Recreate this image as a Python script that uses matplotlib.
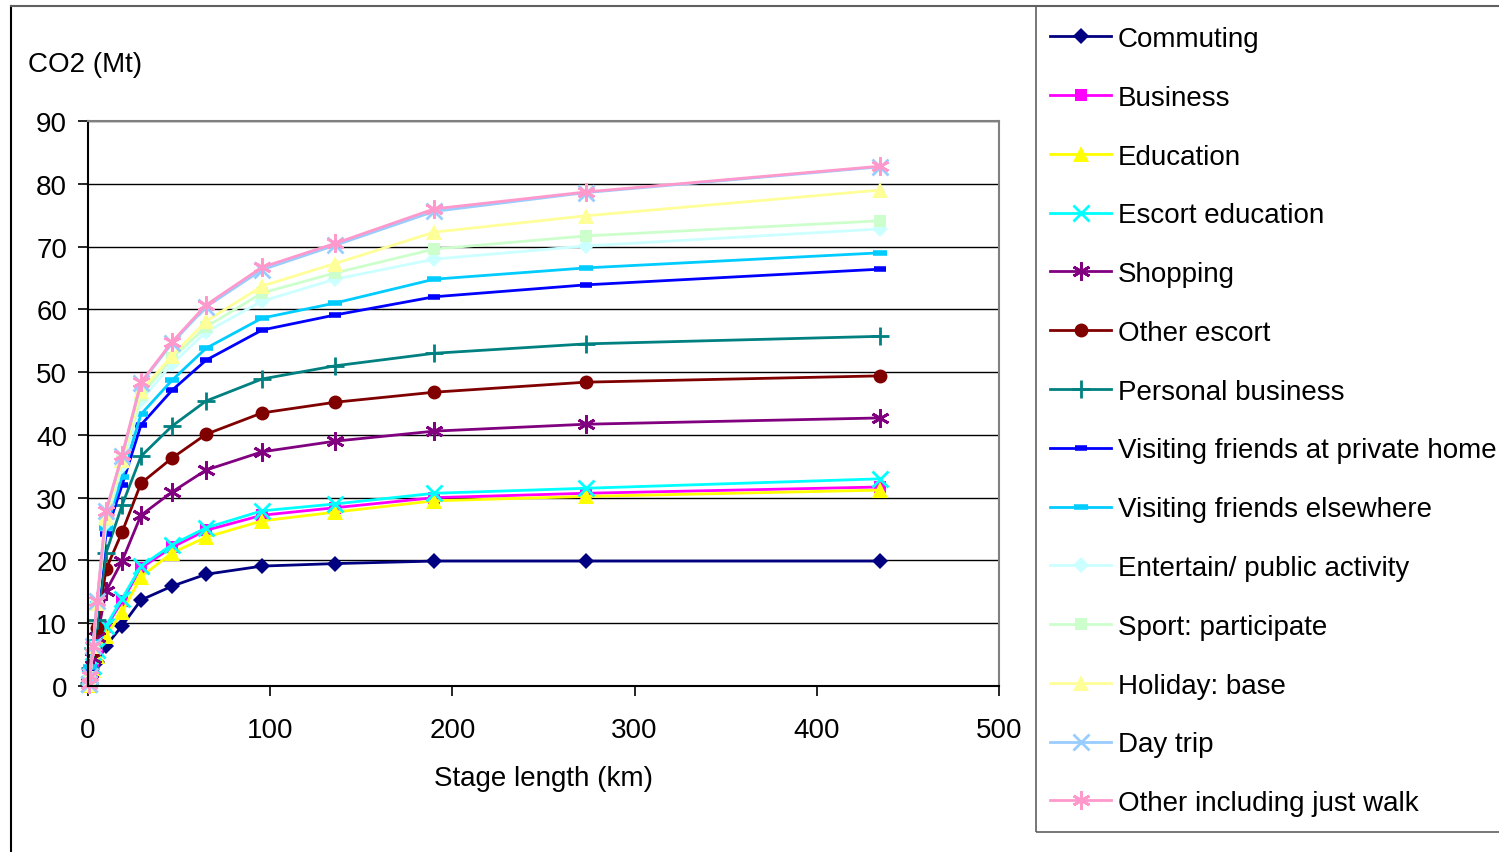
import matplotlib
matplotlib.use("Agg")
import matplotlib.pyplot as plt
from matplotlib.lines import Line2D
from matplotlib.patches import Rectangle

plt.rcParams['font.family'] = ['Liberation Sans', 'DejaVu Sans']

stage_km = [0.3, 1.1, 2.8, 5.0, 9.9, 18.7, 29.1, 46.1, 64.8, 95.5, 135.6, 190.0, 273.3, 434.7]

commuting = [0.2, 0.9, 2.1, 3.8, 6.4, 9.6, 13.7, 15.9, 17.8, 19.1, 19.5, 19.9, 19.9, 19.9]
business = [0.3, 1.2, 3.0, 5.5, 9.4, 13.5, 18.8, 22.1, 24.8, 27.2, 28.4, 30.0, 30.7, 31.7]
education = [0.2, 1.0, 2.6, 4.7, 8.0, 11.8, 17.4, 21.2, 23.7, 26.3, 27.7, 29.5, 30.2, 31.2]
escort_education = [0.3, 1.3, 3.2, 5.8, 9.6, 13.9, 19.1, 22.5, 25.2, 27.9, 29.0, 30.7, 31.5, 33.0]
shopping = [0.4, 2.0, 4.5, 7.8, 15.1, 19.9, 27.2, 30.9, 34.4, 37.3, 39.0, 40.6, 41.7, 42.7]
other_escort = [0.5, 2.5, 5.5, 9.2, 18.6, 24.5, 32.3, 36.3, 40.1, 43.5, 45.2, 46.8, 48.4, 49.4]
personal_business = [0.5, 2.8, 6.0, 10.5, 21.2, 28.8, 36.6, 41.4, 45.4, 48.9, 51.0, 53.0, 54.5, 55.7]
visit_home = [0.5, 2.8, 6.5, 12.5, 24.2, 32.0, 41.6, 47.1, 51.9, 56.7, 59.1, 62.0, 63.9, 66.4]
visit_elsewhere = [0.5, 3.0, 7.0, 13.0, 25.2, 33.3, 43.3, 48.7, 53.8, 58.6, 61.0, 64.8, 66.6, 69.0]
entertain = [0.3, 1.5, 6.0, 13.0, 26.0, 35.0, 45.5, 51.3, 56.4, 61.3, 64.8, 68.0, 70.1, 72.8]
sport = [0.3, 1.5, 6.2, 13.2, 26.5, 35.8, 46.3, 52.2, 57.2, 62.6, 65.8, 69.6, 71.7, 74.1]
holiday = [0.3, 1.6, 6.3, 13.3, 27.0, 36.0, 47.0, 52.6, 58.1, 63.7, 67.3, 72.3, 74.9, 79.0]
day_trip = [0.3, 1.6, 6.4, 13.5, 27.8, 36.6, 48.2, 54.6, 60.4, 66.3, 70.2, 75.6, 78.6, 82.7]
other_walk = [0.3, 1.6, 6.4, 13.5, 27.9, 36.8, 48.4, 54.8, 60.7, 66.7, 70.5, 76.0, 78.7, 82.8]

labels = ["Commuting", "Business", "Education", "Escort education", "Shopping",
          "Other escort", "Personal business", "Visiting friends at private home",
          "Visiting friends elsewhere", "Entertain/ public activity",
          "Sport: participate", "Holiday: base", "Day trip", "Other including just walk"]
series = [commuting, business, education, escort_education, shopping, other_escort,
          personal_business, visit_home, visit_elsewhere, entertain, sport, holiday,
          day_trip, other_walk]
colors = ["#000080", "#FF00FF", "#FFFF00", "#00FFFF", "#800080", "#800000", "#008080",
          "#0000FF", "#00CCFF", "#CCFFFF", "#CCFFCC", "#FFFF99", "#99CCFF", "#FF99CC"]
ASTER = (6, 2, 0)
markers = ["D", "s", "^", "x", ASTER, "o", "+", "_", "_", "D", "s", "^", "x", ASTER]
msizes = [8, 9, 11, 11, 13, 10, 13, 8, 10, 8, 9, 11, 11, 13]

W, H = 1499, 853
FS = 20
fig = plt.figure(figsize=(W / 100, H / 100), dpi=100)
ax = fig.add_axes([88 / W, 1 - 687 / H, (999 - 88) / W, (687 - 122) / H])

handles = []
for lab, ys, c, m, ms in zip(labels, series, colors, markers, msizes):
    if m in ("x", "+", ASTER):
        kw = dict(markeredgewidth=2.0)
    elif m == "_":
        kw = dict(markeredgewidth=4.0)
    else:
        kw = dict(markeredgewidth=0)
    ln, = ax.plot(stage_km, ys, color=c, linewidth=2, marker=m, markersize=ms,
                  markerfacecolor=c, markeredgecolor=c, label=lab, clip_on=False, **kw)
    handles.append(ln)

ax.set_xlim(0, 500)
ax.set_ylim(0, 90)
ax.set_xticks(range(0, 501, 100))
ax.set_yticks(range(0, 91, 10))
ax.tick_params(axis='both', labelsize=FS, direction='out', length=7, width=1.2, color='black')
ax.tick_params(axis='x', pad=15)
ax.tick_params(axis='y', pad=8)
ax.grid(axis='y', color='black', linewidth=1)
ax.set_axisbelow(True)
for s in ("top", "right"):
    ax.spines[s].set_color("#808080")
    ax.spines[s].set_linewidth(1.5)
for s in ("left", "bottom"):
    ax.spines[s].set_color("black")
    ax.spines[s].set_linewidth(1.5)

ax.set_xlabel("Stage length (km)", fontsize=FS, labelpad=16)
fig.text(28 / W, 1 - 65 / H, "CO2 (Mt)", fontsize=FS, ha='left', va='center')

# outer chart border
fig.add_artist(Line2D([10.5 / W, 10.5 / W], [0, 1 - 7 / H], color='black', linewidth=1.5))
fig.add_artist(Line2D([10.5 / W, 1], [1 - 7 / H, 1 - 7 / H], color='#606060', linewidth=1.5))
# legend frame
fig.add_artist(Rectangle((1036 / W, 1 - 833 / H), (W - 1036 + 5) / W, (833 - 7) / H,
                         transform=fig.transFigure, fill=False, edgecolor='#606060',
                         linewidth=1.2))

leg = fig.legend(handles=handles, labels=labels, loc='upper left',
                 bbox_to_anchor=(1050 / W, 1 - 27 / H), frameon=False, fontsize=FS,
                 handlelength=2.2, handletextpad=0.25, labelspacing=1.18,
                 borderaxespad=0, borderpad=0)
for lh in leg.get_lines():
    lh.set_linewidth(2)

fig.savefig("out.png", dpi=100)
